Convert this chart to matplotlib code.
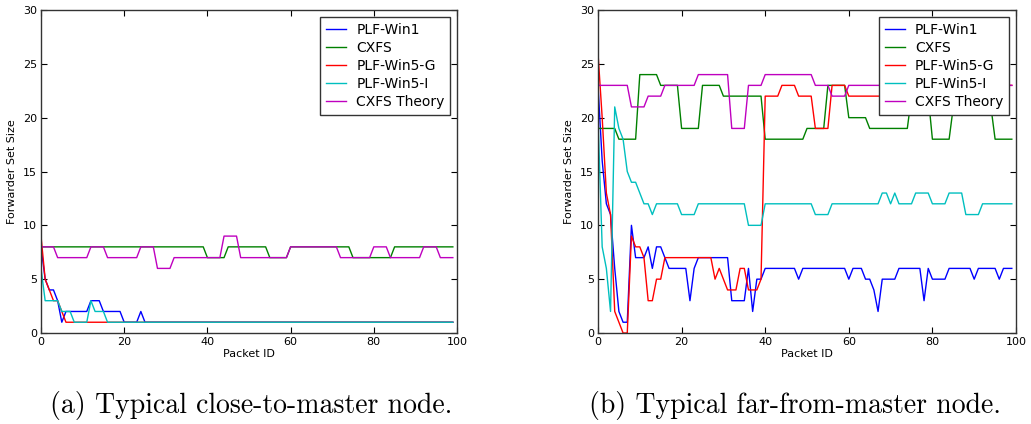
import matplotlib
matplotlib.use("Agg")
import matplotlib.pyplot as plt

# packet ids 0..99
packet_id = list(range(100))
series_names = ["PLF-Win1", "CXFS", "PLF-Win5-G", "PLF-Win5-I", "CXFS Theory"]

# (a) close-to-master node
win1_a = [8, 5, 4, 4, 3, 1, 2, 2, 2, 2, 2, 2, 3, 3, 3, 2, 2, 2, 2, 2,
          1, 1, 1, 1, 2, 1, 1, 1, 1, 1, 1, 1, 1, 1, 1, 1, 1, 1, 1, 1,
          1, 1, 1, 1, 1, 1, 1, 1, 1, 1, 1, 1, 1, 1, 1, 1, 1, 1, 1, 1,
          1, 1, 1, 1, 1, 1, 1, 1, 1, 1, 1, 1, 1, 1, 1, 1, 1, 1, 1, 1,
          1, 1, 1, 1, 1, 1, 1, 1, 1, 1, 1, 1, 1, 1, 1, 1, 1, 1, 1, 1]
cxfs_a = [8, 8, 8, 8, 8, 8, 8, 8, 8, 8, 8, 8, 8, 8, 8, 8, 8, 8, 8, 8,
          8, 8, 8, 8, 8, 8, 8, 8, 8, 8, 8, 8, 8, 8, 8, 8, 8, 8, 8, 8,
          7, 7, 7, 7, 7, 8, 8, 8, 8, 8, 8, 8, 8, 8, 8, 7, 7, 7, 7, 7,
          8, 8, 8, 8, 8, 8, 8, 8, 8, 8, 8, 8, 8, 8, 8, 7, 7, 7, 7, 7,
          7, 7, 7, 7, 7, 8, 8, 8, 8, 8, 8, 8, 8, 8, 8, 8, 8, 8, 8, 8]
win5g_a = [9, 5, 4, 3, 3, 2, 1, 1, 1, 1, 1, 1, 1, 1, 1, 1, 1, 1, 1, 1,
           1, 1, 1, 1, 1, 1, 1, 1, 1, 1, 1, 1, 1, 1, 1, 1, 1, 1, 1, 1,
           1, 1, 1, 1, 1, 1, 1, 1, 1, 1, 1, 1, 1, 1, 1, 1, 1, 1, 1, 1,
           1, 1, 1, 1, 1, 1, 1, 1, 1, 1, 1, 1, 1, 1, 1, 1, 1, 1, 1, 1,
           1, 1, 1, 1, 1, 1, 1, 1, 1, 1, 1, 1, 1, 1, 1, 1, 1, 1, 1, 1]
win5i_a = [6, 3, 3, 3, 3, 2, 2, 2, 1, 1, 1, 1, 3, 2, 2, 2, 1, 1, 1, 1,
           1, 1, 1, 1, 1, 1, 1, 1, 1, 1, 1, 1, 1, 1, 1, 1, 1, 1, 1, 1,
           1, 1, 1, 1, 1, 1, 1, 1, 1, 1, 1, 1, 1, 1, 1, 1, 1, 1, 1, 1,
           1, 1, 1, 1, 1, 1, 1, 1, 1, 1, 1, 1, 1, 1, 1, 1, 1, 1, 1, 1,
           1, 1, 1, 1, 1, 1, 1, 1, 1, 1, 1, 1, 1, 1, 1, 1, 1, 1, 1, 1]
theory_a = [8, 8, 8, 8, 7, 7, 7, 7, 7, 7, 7, 7, 8, 8, 8, 8, 7, 7, 7, 7,
            7, 7, 7, 7, 8, 8, 8, 8, 6, 6, 6, 6, 7, 7, 7, 7, 7, 7, 7, 7,
            7, 7, 7, 7, 9, 9, 9, 9, 7, 7, 7, 7, 7, 7, 7, 7, 7, 7, 7, 7,
            8, 8, 8, 8, 8, 8, 8, 8, 8, 8, 8, 8, 7, 7, 7, 7, 7, 7, 7, 7,
            8, 8, 8, 8, 7, 7, 7, 7, 7, 7, 7, 7, 8, 8, 8, 8, 7, 7, 7, 7]

# (b) far-from-master node
win1_b = [23, 16, 12, 11, 6, 2, 1, 1, 10, 7, 7, 7, 8, 6, 8, 8, 7, 6, 6, 6,
          6, 6, 3, 6, 7, 7, 7, 7, 7, 7, 7, 7, 3, 3, 3, 3, 6, 2, 5, 5,
          6, 6, 6, 6, 6, 6, 6, 6, 5, 6, 6, 6, 6, 6, 6, 6, 6, 6, 6, 6,
          5, 6, 6, 6, 5, 5, 4, 2, 5, 5, 5, 5, 6, 6, 6, 6, 6, 6, 3, 6,
          5, 5, 5, 5, 6, 6, 6, 6, 6, 6, 5, 6, 6, 6, 6, 6, 5, 6, 6, 6]
cxfs_b = [19, 19, 19, 19, 19, 18, 18, 18, 18, 18, 24, 24, 24, 24, 24, 23, 23, 23, 23, 23,
          19, 19, 19, 19, 19, 23, 23, 23, 23, 23, 22, 22, 22, 22, 22, 22, 22, 22, 22, 22,
          18, 18, 18, 18, 18, 18, 18, 18, 18, 18, 19, 19, 19, 19, 19, 23, 23, 23, 23, 23,
          20, 20, 20, 20, 20, 19, 19, 19, 19, 19, 19, 19, 19, 19, 19, 22, 22, 22, 22, 22,
          18, 18, 18, 18, 18, 21, 21, 21, 21, 21, 21, 21, 21, 21, 21, 18, 18, 18, 18, 18]
win5g_b = [26, 20, 13, 11, 2, 1, 0, 0, 9, 8, 8, 7, 3, 3, 5, 5, 7, 7, 7, 7,
           7, 7, 7, 7, 7, 7, 7, 7, 5, 6, 5, 4, 4, 4, 6, 6, 4, 4, 4, 5,
           22, 22, 22, 22, 23, 23, 23, 23, 22, 22, 22, 22, 19, 19, 19, 19, 23, 23, 23, 23,
           22, 22, 22, 22, 22, 22, 22, 22, 22, 22, 22, 22, 22, 22, 22, 22, 22, 22, 22, 22,
           22, 22, 22, 22, 22, 22, 22, 22, 22, 22, 22, 22, 22, 22, 22, 22, 23, 23, 23, 23]
win5i_b = [20, 8, 6, 2, 21, 19, 18, 15, 14, 14, 13, 12, 12, 11, 12, 12, 12, 12, 12, 12,
           11, 11, 11, 11, 12, 12, 12, 12, 12, 12, 12, 12, 12, 12, 12, 12, 10, 10, 10, 10,
           12, 12, 12, 12, 12, 12, 12, 12, 12, 12, 12, 12, 11, 11, 11, 11, 12, 12, 12, 12,
           12, 12, 12, 12, 12, 12, 12, 12, 13, 13, 12, 13, 12, 12, 12, 12, 13, 13, 13, 13,
           12, 12, 12, 12, 13, 13, 13, 13, 11, 11, 11, 11, 12, 12, 12, 12, 12, 12, 12, 12]
theory_b = [23, 23, 23, 23, 23, 23, 23, 23, 21, 21, 21, 21, 22, 22, 22, 22, 23, 23, 23, 23,
            23, 23, 23, 23, 24, 24, 24, 24, 24, 24, 24, 24, 19, 19, 19, 19, 23, 23, 23, 23,
            24, 24, 24, 24, 24, 24, 24, 24, 24, 24, 24, 24, 23, 23, 23, 23, 22, 22, 22, 22,
            23, 23, 23, 23, 23, 23, 23, 23, 23, 23, 23, 23, 23, 23, 23, 23, 23, 23, 23, 23,
            23, 23, 23, 23, 23, 23, 23, 23, 23, 23, 23, 23, 23, 23, 23, 23, 23, 23, 23, 23]

captions = ["(a) Typical close-to-master node.", "(b) Typical far-from-master node."]
colors = ["#0000ff", "#008000", "#ff0000", "#00bfbf", "#bf00bf"]

fig = plt.figure(figsize=(10.31, 4.24), dpi=100)
ax_a = fig.add_axes([41 / 1031, 91 / 424, 416 / 1031, 323 / 424])
ax_b = fig.add_axes([598 / 1031, 91 / 424, 418 / 1031, 323 / 424])

panels = [(ax_a, [win1_a, cxfs_a, win5g_a, win5i_a, theory_a]),
          (ax_b, [win1_b, cxfs_b, win5g_b, win5i_b, theory_b])]

for ax, data in panels:
    for vals, name, col in zip(data, series_names, colors):
        ax.plot(packet_id, vals, color=col, lw=1.0, label=name)
    ax.set_xlim(0, 100)
    ax.set_ylim(0, 30)
    ax.set_xticks(range(0, 101, 20))
    ax.set_yticks(range(0, 31, 5))
    ax.tick_params(direction="in", top=True, right=True, length=4,
                   labelsize=8, pad=3)
    for sp in ax.spines.values():
        sp.set_linewidth(1.0)
        sp.set_color("#333333")
    ax.set_xlabel("Packet ID", fontsize=8, labelpad=1)
    ax.set_ylabel("Forwarder Set Size", fontsize=8, labelpad=4)
    leg = ax.legend(loc="upper right", fontsize=10, fancybox=False,
                    handlelength=1.5, handletextpad=0.7, labelspacing=0.3,
                    borderpad=0.4, borderaxespad=0.5, framealpha=1)
    leg.get_frame().set_edgecolor("#333333")
    leg.get_frame().set_linewidth(1.0)

fig.text(251 / 1031, 1 - 405 / 424, captions[0], family="cmr10",
         fontsize=20, ha="center", va="center")
fig.text(795 / 1031, 1 - 405 / 424, captions[1], family="cmr10",
         fontsize=20, ha="center", va="center")

fig.savefig("out.png", dpi=100)
